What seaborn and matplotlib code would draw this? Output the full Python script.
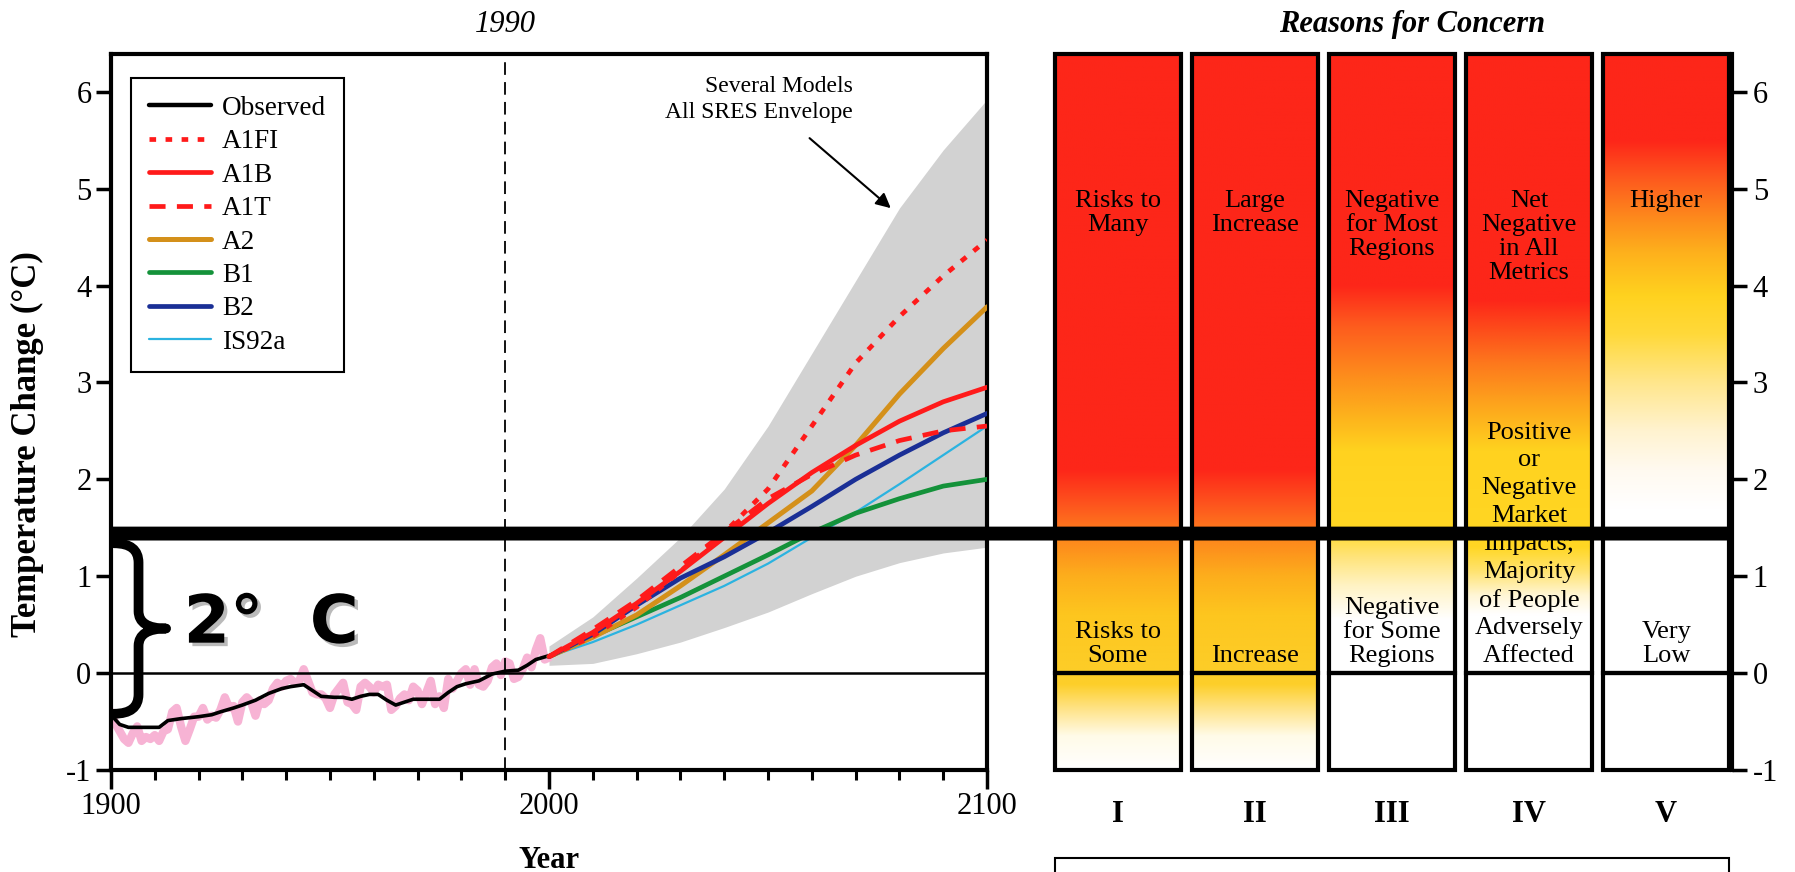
import numpy as np
import matplotlib
matplotlib.use("Agg")
import matplotlib.pyplot as plt
import seaborn as sns
from matplotlib.patches import Rectangle, ConnectionPatch, PathPatch
from matplotlib.path import Path
from matplotlib.colors import to_rgb
from matplotlib.lines import Line2D
import matplotlib.patheffects as pe

# ---------------- data ----------------
obs_years = list(range(1900, 2001))
obs_annual = [-0.40, -0.52, -0.60, -0.68, -0.72, -0.62, -0.55, -0.70, -0.66, -0.68,
              -0.64, -0.70, -0.60, -0.58, -0.40, -0.36, -0.55, -0.70, -0.58, -0.45,
              -0.45, -0.36, -0.48, -0.44, -0.46, -0.38, -0.25, -0.36, -0.34, -0.50,
              -0.30, -0.25, -0.30, -0.44, -0.28, -0.32, -0.28, -0.16, -0.10, -0.14,
              -0.08, -0.06, -0.10, -0.08, 0.04, -0.08, -0.20, -0.22, -0.22, -0.26,
              -0.36, -0.22, -0.16, -0.10, -0.30, -0.32, -0.38, -0.14, -0.10, -0.14,
              -0.20, -0.12, -0.14, -0.12, -0.38, -0.34, -0.26, -0.22, -0.28, -0.14,
              -0.18, -0.32, -0.20, -0.08, -0.32, -0.24, -0.36, -0.06, -0.16, -0.08,
              0.00, 0.04, -0.12, 0.04, -0.12, -0.14, -0.08, 0.06, 0.10, -0.02,
              0.12, 0.10, -0.06, -0.04, 0.04, 0.16, 0.06, 0.24, 0.36, 0.14, 0.16]

smooth_years = [1900, 1902, 1904, 1908, 1911, 1913, 1916, 1920, 1923, 1925, 1928, 1930,
                1933, 1936, 1939, 1941, 1944, 1946, 1948, 1951, 1953, 1955, 1957, 1959,
                1961, 1963, 1965, 1967, 1969, 1972, 1975, 1977, 1979, 1981, 1984, 1987,
                1990, 1993, 1995, 1997, 2000]
smooth_vals = [-0.43, -0.53, -0.56, -0.56, -0.56, -0.49, -0.47, -0.45, -0.43, -0.40, -0.36, -0.33,
               -0.28, -0.21, -0.16, -0.14, -0.12, -0.18, -0.24, -0.25, -0.25, -0.27, -0.24, -0.22,
               -0.22, -0.28, -0.33, -0.30, -0.27, -0.27, -0.27, -0.20, -0.14, -0.11, -0.08, -0.01,
               0.02, 0.03, 0.08, 0.14, 0.18]

proj_years = [2000, 2010, 2020, 2030, 2040, 2050, 2060, 2070, 2080, 2090, 2100]
env_hi = [0.28, 0.58, 0.98, 1.40, 1.90, 2.55, 3.30, 4.05, 4.80, 5.40, 5.92]
env_lo = [0.08, 0.10, 0.20, 0.32, 0.47, 0.63, 0.82, 1.00, 1.14, 1.24, 1.30]

scen_names = ["A1FI", "A1B", "A1T", "A2", "B1", "B2", "IS92a"]
scen_A1FI = [0.17, 0.38, 0.68, 1.05, 1.45, 1.90, 2.55, 3.20, 3.68, 4.10, 4.47]
scen_A1B = [0.17, 0.42, 0.72, 1.05, 1.40, 1.75, 2.07, 2.35, 2.60, 2.80, 2.95]
scen_A1T = [0.17, 0.45, 0.75, 1.10, 1.45, 1.80, 2.05, 2.25, 2.40, 2.50, 2.55]
scen_A2 = [0.17, 0.37, 0.60, 0.90, 1.22, 1.55, 1.88, 2.35, 2.88, 3.35, 3.78]
scen_B1 = [0.17, 0.38, 0.58, 0.78, 1.00, 1.22, 1.45, 1.65, 1.80, 1.93, 2.00]
scen_B2 = [0.17, 0.40, 0.70, 0.98, 1.20, 1.45, 1.72, 2.00, 2.25, 2.48, 2.68]
scen_IS92a = [0.17, 0.32, 0.50, 0.70, 0.90, 1.13, 1.40, 1.66, 1.95, 2.25, 2.55]

threshold = 1.44
brace_lo, brace_hi = -0.42, 1.34

concern_numerals = ["I", "II", "III", "IV", "V"]
concern_high = ["Risks to\nMany", "Large\nIncrease", "Negative\nfor Most\nRegions",
                "Net\nNegative\nin All\nMetrics", "Higher"]
concern_low = ["Risks to\nSome", "Increase", "Negative\nfor Some\nRegions",
               "Positive\nor\nNegative\nMarket\nImpacts;\nMajority\nof People\nAdversely\nAffected",
               "Very\nLow"]

# colour stops (temperature -> colour) for each column
RED = "#fd2619"
stops_I = [-1.0, -0.65, -0.38, -0.12, 0.6, 1.0, 1.35, 1.7, 2.1, 6.4]
cols_I = ["#ffffff", "#fffbe8", "#ffe48a", "#fdcf2a", "#fdc61f", "#fdae1c", "#fd8a1c", "#fe5a1e", RED, RED]
stops_III = [-1.0, 0.55, 0.9, 1.2, 1.5, 2.3, 2.7, 3.1, 3.6, 4.0, 6.4]
cols_III = ["#ffffff", "#ffffff", "#fff3c4", "#ffe47a", "#ffd724", "#ffd21f", "#fdae1c", "#fd8a1c", "#fe5a1e", RED, RED]
stops_IV = [-1.0, 0.6, 0.8, 1.05, 1.3, 2.3, 2.8, 3.2, 3.85, 6.4]
cols_IV = ["#ffffff", "#ffffff", "#fff6d6", "#ffe370", "#ffd724", "#ffd21f", "#fda21c", "#fd781d", RED, RED]
stops_V = [-1.0, 1.7, 2.1, 2.5, 3.0, 3.5, 3.9, 4.35, 4.7, 5.1, 5.5, 6.4]
cols_V = ["#ffffff", "#ffffff", "#fffaf0", "#fff3d0", "#ffe68c", "#ffd93a", "#ffd21f", "#feb01c", "#fd8a1c", "#fe5a1e", RED, RED]
column_stops = [(stops_I, cols_I), (stops_I, cols_I), (stops_III, cols_III), (stops_IV, cols_IV), (stops_V, cols_V)]

# ---------------- style ----------------
sns.set_theme(style="white")
plt.rcParams["font.family"] = ["Liberation Serif", "DejaVu Sans"]
plt.rcParams["axes.unicode_minus"] = False
for k in ["text.color", "axes.labelcolor", "xtick.color", "ytick.color", "axes.edgecolor"]:
    plt.rcParams[k] = "black"

YMIN, YMAX = -1.0, 6.39

fig = plt.figure(figsize=(17.95, 8.72), dpi=100)
ax1 = fig.add_axes([0.0618, 0.1170, 0.4881, 0.8211])
ax2 = fig.add_axes([0.5872, 0.1170, 0.3777, 0.8211])

# ---------------- left panel ----------------
ax1.fill_between(proj_years, env_lo, env_hi, color="#d2d2d2", lw=0, zorder=1)
sns.lineplot(x=obs_years, y=obs_annual, ax=ax1, color="#f7b3d4", lw=6, errorbar=None, zorder=2)
sns.lineplot(x=smooth_years, y=smooth_vals, ax=ax1, color="black", lw=2.6, errorbar=None, zorder=4)

styles = {
    "A1FI": dict(color="#ff1a1a", lw=3.4, ls=(0, (1.4, 2.0))),
    "A1B": dict(color="#ff1a1a", lw=3.4, ls="-"),
    "A1T": dict(color="#ff1a1a", lw=3.4, ls=(0, (3.4, 2.4))),
    "A2": dict(color="#d4901a", lw=3.6, ls="-"),
    "B1": dict(color="#14923a", lw=3.4, ls="-"),
    "B2": dict(color="#1a2f96", lw=3.4, ls="-"),
    "IS92a": dict(color="#2bb3e0", lw=1.6, ls="-"),
}
scen_vals = [scen_A1FI, scen_A1B, scen_A1T, scen_A2, scen_B1, scen_B2, scen_IS92a]
draw_order = ["IS92a", "B1", "A2", "B2", "A1T", "A1B", "A1FI"]
for name in draw_order:
    st = styles[name]
    sns.lineplot(x=proj_years, y=scen_vals[scen_names.index(name)], ax=ax1, color=st["color"],
                 lw=st["lw"], linestyle=st["ls"], errorbar=None, zorder=5)

ax1.axhline(0, color="black", lw=1.8, zorder=3)
ax1.axvline(1990, color="black", lw=1.3, ls=(0, (7, 4)), zorder=3)

ax1.set_xlim(1900, 2100)
ax1.set_ylim(YMIN, YMAX)
ax1.set_xticks([1900, 2000, 2100])
ax1.set_xticks(list(range(1910, 2100, 10)), minor=True)
ax1.set_yticks(list(range(-1, 7)))
ax1.tick_params(axis="x", which="major", bottom=True, direction="out", length=14, width=2.5, labelsize=22, pad=2)
ax1.tick_params(axis="x", which="minor", bottom=True, direction="out", length=7, width=2.2)
ax1.tick_params(axis="y", which="major", left=True, direction="out", length=11, width=2.5, labelsize=22, pad=3)
for sp in ax1.spines.values():
    sp.set_linewidth(3)
    sp.set_color("black")

ax1.set_xlabel("Year", fontsize=22, fontweight="bold")
ax1.xaxis.set_label_coords(0.5, -0.106)
ax1.set_ylabel("Temperature Change (°C)", fontsize=25, fontweight="bold")
ax1.yaxis.set_label_coords(-0.076, 0.455)

ax1.text(1990, 6.69, "1990", ha="center", va="center", fontsize=22, style="italic", clip_on=False)

# legend
handles = [Line2D([], [], color="black", lw=3.2)]
for name in scen_names:
    st = styles[name]
    handles.append(Line2D([], [], color=st["color"], lw=st["lw"], linestyle=st["ls"]))
labels = ["Observed"] + scen_names
leg = ax1.legend(handles, labels, loc="upper left", bbox_to_anchor=(0.023, 0.966), borderaxespad=0,
                 fontsize=19.5, frameon=True, fancybox=False, edgecolor="black", framealpha=1,
                 handlelength=2.3, handletextpad=0.4, labelspacing=0.31, borderpad=0.65)
leg.get_frame().set_linewidth(1.5)

# envelope annotation
ax1.text(2069.4, 5.92, "Several Models\nAll SRES Envelope", ha="right", va="center", fontsize=17,
         multialignment="right", linespacing=1.35, zorder=6)
ax1.annotate("", xy=(2078.5, 4.78), xytext=(2059, 5.54),
             arrowprops=dict(arrowstyle="-|>", color="black", lw=1.5, mutation_scale=22), zorder=6)

# brace
x_sp, x_body, x_tip = 1900.7, 1906.3, 1912.6
mid = (brace_lo + brace_hi) / 2
verts = [(x_sp, brace_hi), (x_body, brace_hi), (x_body, brace_hi - 0.2),
         (x_body, mid + 0.18), (x_body, mid), (x_tip, mid),
         (x_body, mid), (x_body, mid - 0.18),
         (x_body, brace_lo + 0.2), (x_body, brace_lo), (x_sp, brace_lo)]
codes = [Path.MOVETO, Path.CURVE3, Path.CURVE3, Path.LINETO, Path.CURVE3, Path.CURVE3,
         Path.CURVE3, Path.CURVE3, Path.LINETO, Path.CURVE3, Path.CURVE3]
ax1.add_patch(PathPatch(Path(verts, codes), fill=False, lw=7, ec="black",
                        capstyle="round", joinstyle="round", zorder=7))
ax1.text(1916.6, mid + 0.05, "2°  C", ha="left", va="center", fontsize=48,
         fontweight="bold", family=["DejaVu Sans"], zorder=7,
         path_effects=[pe.SimplePatchShadow(offset=(2.5, -2.5), shadow_rgbFace="#777777", alpha=0.5),
                       pe.Normal()])

# ---------------- right panel ----------------
COLW = 0.92
ygrid = np.linspace(YMIN, YMAX, 800)
for i, (stops, cols) in enumerate(column_stops):
    rgb = np.array([to_rgb(c) for c in cols])
    img = np.stack([np.interp(ygrid, stops, rgb[:, k]) for k in range(3)], axis=-1)[:, None, :]
    ax2.imshow(img, extent=[i, i + COLW, YMIN, YMAX], origin="lower", aspect="auto",
               interpolation="bilinear", zorder=1)
    ax2.add_patch(Rectangle((i, YMIN), COLW, 0 - YMIN, fill=False, lw=3, ec="black", clip_on=False, zorder=3))
    ax2.add_patch(Rectangle((i, 0), COLW, YMAX, fill=False, lw=3, ec="black", clip_on=False, zorder=3))
    ax2.text(i + COLW / 2, 4.99, concern_high[i], ha="center", va="top", fontsize=19, linespacing=1.12, zorder=4)
    ax2.text(i + COLW / 2, 0.06, concern_low[i], ha="center", va="bottom", fontsize=19,
             linespacing=1.34 if i == 3 else 1.12, zorder=4)
    ax2.text(i + COLW / 2, -1.46, concern_numerals[i], ha="center", va="center", fontsize=22,
             fontweight="bold", clip_on=False)

ax2.set_xlim(-0.005, 4.94)
ax2.set_ylim(YMIN, YMAX)
ax2.set_xticks([])
ax2.set_yticks(list(range(-1, 7)))
ax2.yaxis.tick_right()
ax2.tick_params(axis="y", right=True, left=False, direction="out", length=11, width=2.5, labelsize=22, pad=4)
for side in ["left", "top", "bottom"]:
    ax2.spines[side].set_visible(False)
ax2.spines["right"].set_linewidth(3)
ax2.spines["right"].set_color("black")

ax2.text(2.61, 6.69, "Reasons for Concern", ha="center", va="center", fontsize=22,
         style="italic", fontweight="bold", clip_on=False)
ax2.add_patch(Rectangle((0, -2.6), COLW + 4, 0.69, fill=False, lw=1.5, ec="black", clip_on=False))

# thick threshold line across both panels
con = ConnectionPatch(xyA=(1900, threshold), coordsA=ax1.transData,
                      xyB=(4.94, threshold), coordsB=ax2.transData,
                      color="black", lw=10, capstyle="butt", zorder=20)
fig.add_artist(con)

fig.savefig("out.png", dpi=100)
